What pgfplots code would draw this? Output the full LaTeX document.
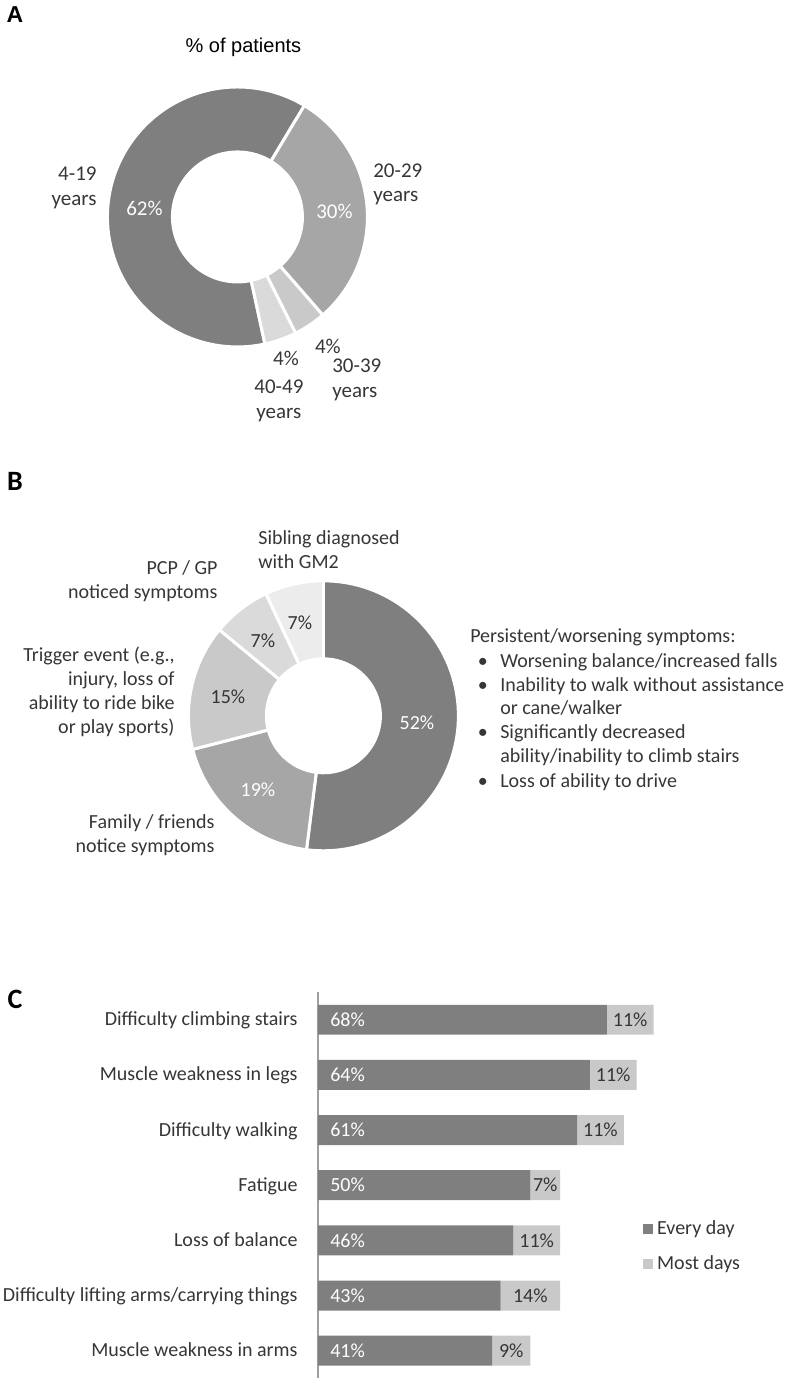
\documentclass[border=0pt]{standalone}
\usepackage{pgfplots}
\pgfplotsset{compat=1.18}
\usepackage{pgfplotstable}
\usepackage{fontspec}
\setmainfont{Carlito}
\newfontfamily\arialfont{Liberation Sans}

\definecolor{segdark}{HTML}{7F7F7F}
\definecolor{segmid}{HTML}{A6A6A6}
\definecolor{seglight}{HTML}{C9C9C9}
\definecolor{seglighter}{HTML}{DADADA}
\definecolor{seglightest}{HTML}{ECECEC}
\definecolor{barlight}{HTML}{C9C9C9}
\definecolor{textgray}{HTML}{363636}
\definecolor{axisgray}{HTML}{A0A0A0}

% Panel C data
\pgfplotstableread{
y every most
6 68 11
5 64 11
4 61 11
3 50 7
2 46 11
1 43 14
0 41 9
}\symptoms

\newcommand{\lab}{\fontsize{10}{12}\selectfont}
\newcommand{\labA}{\fontsize{10.5}{12.3}\selectfont}

\def\splittwo#1/#2\relax{\def\va{#1}\def\vb{#2}}
\def\splitthree#1/#2/#3\relax{\def\va{#1}\def\vb{#2}\def\vc{#3}}

% donut segment: start angle, end angle, outer r, inner r (axis units), colour
\newcommand{\donutseg}[5]{\fill[#5, draw=white, line width=1.5pt, line join=round]
  (axis cs:{#3*cos(#1)},{#3*sin(#1)}) arc[start angle=#1, end angle=#2, radius=#3*0.5pt]
  -- (axis cs:{#4*cos(#2)},{#4*sin(#2)}) arc[start angle=#2, end angle=#1, radius=#4*0.5pt] -- cycle;}

\begin{document}
\begin{tikzpicture}

% ---------- Panel A donut ----------
\begin{axis}[at={(118.75pt,-108.5pt)}, anchor=origin, x=0.5pt, y=0.5pt,
  xmin=-135, xmax=135, ymin=-135, ymax=135, hide axis, clip=false]
\def\cum{-77.8}
\pgfplotsforeachungrouped \itm in {62/segdark,30/segmid,4/seglight,4/seglighter}{%
  \expandafter\splittwo\itm\relax
  \pgfmathsetmacro\nxt{\cum-3.6*\va}%
  \edef\tmp{\noexpand\donutseg{\cum}{\nxt}{130}{65}{\vb}}\tmp
  \global\let\cum\nxt
}
\end{axis}

% ---------- Panel B donut ----------
\begin{axis}[at={(161.75pt,-358pt)}, anchor=origin, x=0.5pt, y=0.5pt,
  xmin=-140, xmax=140, ymin=-140, ymax=140, hide axis, clip=false]
\def\cum{90}
\pgfplotsforeachungrouped \itm in {52/segdark,19/segmid,15/seglight,7/seglighter,7/seglightest}{%
  \expandafter\splittwo\itm\relax
  \pgfmathsetmacro\nxt{\cum-3.6*\va}%
  \edef\tmp{\noexpand\donutseg{\cum}{\nxt}{135}{57}{\vb}}\tmp
  \global\let\cum\nxt
}
\end{axis}

% ---------- Panel C bars ----------
\begin{axis}[at={(159pt,-689.3pt)}, anchor=south west,
  x=2.125pt, y=27.585pt, xmin=0, xmax=110, ymin=-0.5, ymax=6.5,
  xbar stacked, bar width=15pt,
  axis x line=none, axis y line*=left,
  y axis line style={draw=axisgray, line width=0.75pt},
  ytick={0,...,6}, major tick length=0pt,
  yticklabels={Muscle weakness in arms, Difficulty lifting arms/carrying things, Loss of balance, Fatigue, Difficulty walking, Muscle weakness in legs, Difficulty climbing stairs},
  yticklabel style={font=\lab, text=textgray, anchor=east, inner sep=0pt, xshift=-10pt, text height=0.75em, text depth=0.15em},
  clip=false,
  legend style={draw=none, fill=none, at={(0.695,0.341)}, anchor=west,
    font=\lab, text=textgray, row sep=5pt, inner sep=0pt, cells={anchor=west}},
  legend image code/.code={\fill[#1, draw=none] (0pt,-2.5pt) rectangle (5pt,2.5pt);},
]
\addplot[fill=segdark, draw=none] table[x=every, y=y] {\symptoms};
\addplot[fill=barlight, draw=none] table[x=most, y=y] {\symptoms};
\legend{Every day, Most days}
\pgfplotsforeachungrouped \itm in {6/68/11,5/64/11,4/61/11,3/50/7,2/46/11,1/43/14,0/41/9}{%
  \expandafter\splitthree\itm\relax
  \pgfmathsetmacro\vmid{\vb+\vc/2}%
  \edef\tmp{\noexpand\coordinate (d\va) at (axis cs:0,\va);
    \noexpand\coordinate (l\va) at (axis cs:\vmid,\va);}\tmp
}
\end{axis}
\foreach \i/\a/\b in {6/68/11,5/64/11,4/61/11,3/50/7,2/46/11,1/43/14,0/41/9}{
  \node[anchor=west, inner sep=0pt, text=white, font=\lab] at ([xshift=6pt]d\i) {\a\%};
  \node[inner sep=0pt, text=textgray, font=\lab] at (l\i) {\b\%};
}

% ---------- Text ----------
\begin{scope}[x=0.5pt, y=-0.5pt, every node/.style={text=textgray, inner sep=0pt}]
\path[use as bounding box] (0,0) rectangle (789,1379);

% Panel A
\node[text=black, font=\arialfont\bfseries\fontsize{11.5}{14}\selectfont] at (15,14.5) {A};
\node[text=black, font=\arialfont\fontsize{10}{12}\selectfont] at (243.5,47) {\% of patients};
\node[anchor=east, align=right, font=\labA] at (97,188) {4-19\\years};
\node[text=white, font=\labA] at (144.5,208) {62\%};
\node[text=white, font=\labA] at (334.5,211) {30\%};
\node[anchor=west, align=left, font=\labA] at (373,184.5) {20-29\\years};
\node[font=\labA] at (328,347) {4\%};
\node[anchor=west, align=left, font=\labA] at (332,380) {30-39\\years};
\node[font=\labA] at (286,359) {4\%};
\node[align=center, font=\labA] at (279,401) {40-49\\years};

% Panel B
\node[text=black, font=\bfseries\fontsize{14}{17}\selectfont] at (15,482) {B};
\node[anchor=west, align=left, font=\lab] at (258,550) {Sibling diagnosed\\with GM2};
\node[anchor=east, align=right, font=\lab] at (218,581) {PCP / GP\\noticed symptoms};
\node[anchor=east, align=right, font=\lab] at (175,692) {Trigger event (e.g.,\\injury, loss of\\ability to ride bike\\or play sports)};
\node[anchor=east, align=right, font=\lab] at (215,835) {Family / friends\\notice symptoms};
\node[font=\lab] at (300,623) {7\%};
\node[font=\lab] at (263,641) {7\%};
\node[font=\lab] at (228,697) {15\%};
\node[text=white, font=\lab] at (258,790) {19\%};
\node[text=white, font=\lab] at (417,723) {52\%};

\begin{scope}[every node/.append style={font=\lab, anchor=west, text height=0.75em, text depth=0.15em}]
\node at (470,637) {Persistent/worsening symptoms:};
\node at (500,662) {Worsening balance/increased falls};
\node at (500,686) {Inability to walk without assistance};
\node at (500,709) {or cane/walker};
\node at (500,733) {Significantly decreased};
\node at (500,757) {ability/inability to climb stairs};
\node at (500,782) {Loss of ability to drive};
\node[anchor=center] at (483,662) {\textbullet};
\node[anchor=center] at (483,686) {\textbullet};
\node[anchor=center] at (483,733) {\textbullet};
\node[anchor=center] at (483,782) {\textbullet};
\end{scope}

% Panel C
\node[text=black, font=\bfseries\fontsize{14}{17}\selectfont] at (15,1000) {C};
\end{scope}
\end{tikzpicture}
\end{document}
